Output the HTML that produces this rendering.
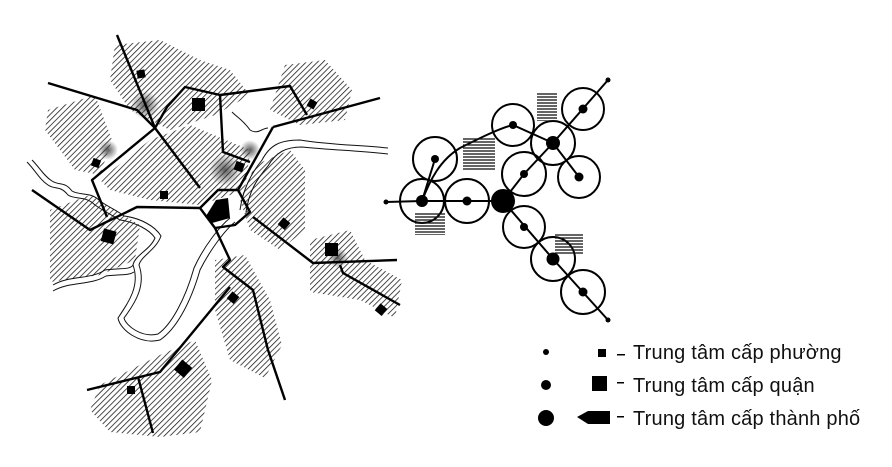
<!DOCTYPE html>
<html><head><meta charset="utf-8"><style>
html,body{margin:0;padding:0;background:#fff;}
svg{display:block;}
text{font-family:"Liberation Sans",Arial,sans-serif;fill:#111;}
</style></head><body>
<svg width="892" height="467" viewBox="0 0 892 467" xmlns="http://www.w3.org/2000/svg">
<defs>
<pattern id="h" width="4" height="4" patternUnits="userSpaceOnUse" patternTransform="rotate(45)">
<line x1="0" y1="0" x2="0" y2="4" stroke="#111" stroke-width="1.5"/>
</pattern>
<pattern id="hz" width="4" height="3" patternUnits="userSpaceOnUse">
<line x1="0" y1="1" x2="4" y2="1" stroke="#111" stroke-width="1.3"/>
</pattern>
<radialGradient id="sm"><stop offset="0" stop-color="#333" stop-opacity=".8"/><stop offset="1" stop-color="#333" stop-opacity="0"/></radialGradient>
</defs>
<rect width="892" height="467" fill="#fff"/>
<g fill="url(#h)">
<polygon points="115,45 160,40 200,60 230,70 250,95 215,115 170,130 130,110 110,80"/>
<polygon points="48,110 95,95 112,140 100,175 75,170 45,130"/>
<polygon points="100,180 150,140 190,125 250,150 245,190 200,205 150,200 110,190"/>
<polygon points="285,65 325,60 352,90 345,120 300,125 270,110"/>
<polygon points="255,165 290,150 305,170 305,230 280,250 250,230 240,200"/>
<polygon points="50,210 90,195 140,225 135,260 100,275 50,282"/>
<polygon points="310,240 350,230 365,260 402,280 395,318 360,300 310,292"/>
<polygon points="215,260 245,255 270,300 282,345 265,378 230,360 215,310"/>
<polygon points="100,385 160,355 195,340 212,380 200,432 160,437 110,432 90,410"/>
</g>
<g fill="url(#sm)">
<circle cx="145" cy="105" r="14"/><circle cx="108" cy="150" r="10"/><circle cx="225" cy="170" r="16"/><circle cx="250" cy="150" r="10"/><circle cx="338" cy="258" r="10"/>
</g>
<g fill="none" stroke="#111" stroke-width="1">
<path d="M27,162 C35,170 40,180 48,185 C55,190 60,185 68,195 C75,200 85,195 95,205 C105,212 112,215 120,220 C135,222 150,230 155,238 C150,250 135,255 133,265 C140,285 130,300 118,318 C120,330 140,345 160,340 C175,330 190,305 200,270 C210,250 225,230 235,222"/>
<path d="M32,160 C40,168 44,176 52,181 C60,186 64,181 72,191 C80,196 90,191 100,201 C110,208 118,211 124,216 C140,218 155,226 161,236 C156,250 141,256 139,265 C146,285 136,302 124,318 C126,326 142,338 158,334 C171,325 185,300 194,268 C204,246 220,226 230,218"/>
<path d="M53,285 C70,275 90,280 105,270 C120,268 130,270 133,265"/>
<path d="M53,291 C70,281 90,286 106,276 C120,274 128,276 134,272"/>
<path d="M240,210 C243,190 250,175 262,160 C270,145 280,140 300,140 C330,145 360,145 388,148"/>
<path d="M246,212 C249,192 256,180 268,166 C276,152 286,147 302,147 C332,150 362,151 388,154"/>
<path d="M232,112 C238,118 243,120 250,130 C258,135 262,128 268,128"/>
</g>
<g fill="none" stroke="#000" stroke-width="2.4" stroke-linejoin="round">
<polyline points="117,35 155,128"/>
<polyline points="155,128 167,107 185,87 220,95 290,86 307,115"/>
<polyline points="273,127 380,98"/>
<polyline points="220,95 223,152 250,162"/>
<polyline points="273,127 253,163 238,190"/>
<polyline points="48,83 137,110 155,128"/>
<polyline points="155,128 92,180 107,217"/>
<polyline points="32,190 90,230 137,207 200,208"/>
<polyline points="155,128 200,188"/>
<polygon points="200,208 218,190 238,190 250,212 235,225 215,228" fill="none"/>
<polyline points="215,228 230,260 223,267 253,290 268,350 285,400"/>
<polyline points="230,287 160,372 87,390"/>
<polyline points="138,377 153,433"/>
<polyline points="253,217 313,263 397,260"/>
<polyline points="340,265 343,273 400,305"/>
</g>
<polygon points="206,216 216,200 228,198 230,218 212,223" fill="#000"/>
<g fill="#000">
<rect x="137" y="70" width="8" height="8" transform="rotate(-10 141 74)"/>
<rect x="192" y="98" width="13" height="13"/>
<rect x="308" y="100" width="8" height="8" transform="rotate(30 312 104)"/>
<rect x="92" y="159" width="8" height="8" transform="rotate(20 96 163)"/>
<rect x="235" y="162" width="9" height="9" transform="rotate(20 239 166)"/>
<rect x="160" y="191" width="8" height="8"/>
<rect x="102" y="230" width="13" height="13" transform="rotate(15 109 237)"/>
<rect x="280" y="219" width="9" height="9" transform="rotate(40 284 223)"/>
<rect x="325" y="243" width="13" height="13"/>
<rect x="377" y="305" width="9" height="9" transform="rotate(40 381 309)"/>
<rect x="229" y="293" width="9" height="9" transform="rotate(40 233 297)"/>
<rect x="177" y="362" width="13" height="13" transform="rotate(40 183 368)"/>
<rect x="127" y="386" width="8" height="8"/>
</g>
<g fill="none" stroke="#000" stroke-width="2">
<path d="M422,201 C430,180 440,160 460,148 C480,138 500,128 513,125"/>
<polyline points="386,202 422,201 503,201"/>
<polyline points="422,201 435,159"/>
<polyline points="503,201 524,174 553,143 608,80"/>
<polyline points="513,125 553,143 579,177"/>
<polyline points="503,201 553,259 608,320"/>
</g>
<g fill="none" stroke="#000" stroke-width="2">
<circle cx="435" cy="159" r="22"/><circle cx="422" cy="201" r="22"/><circle cx="467" cy="201" r="22"/>
<circle cx="513" cy="125" r="21"/><circle cx="553" cy="143" r="22"/><circle cx="583" cy="109" r="21"/>
<circle cx="524" cy="174" r="22"/><circle cx="579" cy="177" r="21"/><circle cx="524" cy="227" r="21"/>
<circle cx="553" cy="259" r="22"/><circle cx="583" cy="292" r="22"/>
</g>
<g fill="#000">
<circle cx="435" cy="159" r="4"/><circle cx="422" cy="201" r="6"/><circle cx="467" cy="201" r="4.5"/>
<circle cx="503" cy="201" r="12"/><circle cx="513" cy="125" r="4"/><circle cx="553" cy="143" r="7"/>
<circle cx="583" cy="109" r="4.5"/><circle cx="524" cy="174" r="4"/><circle cx="579" cy="177" r="4.5"/>
<circle cx="524" cy="227" r="4"/><circle cx="553" cy="259" r="6.5"/><circle cx="583" cy="292" r="4.5"/>
<circle cx="386" cy="202" r="2.5"/><circle cx="608" cy="80" r="2.5"/><circle cx="608" cy="320" r="2.5"/>
</g>
<g>
<rect x="463" y="138" width="32" height="32" fill="url(#hz)"/>
<rect x="537" y="93" width="20" height="28" fill="url(#hz)"/>
<rect x="415" y="213" width="30" height="22" fill="url(#hz)"/>
<rect x="555" y="233" width="28" height="22" fill="url(#hz)"/>
</g>
<g fill="#000">
<circle cx="546" cy="352" r="3"/>
<rect x="598" y="349" width="8" height="8"/>
<rect x="617" y="354" width="8" height="1.5"/>
<circle cx="546" cy="385" r="5"/>
<rect x="592" y="376" width="15" height="15"/>
<rect x="617" y="382" width="7" height="1.5"/>
<circle cx="546" cy="418" r="8"/>
<polygon points="577,417 588,411 610,411 610,424 588,424"/>
<rect x="617" y="416" width="7" height="1.5"/>
</g>
<text x="633" y="359" font-size="20" letter-spacing="0.2">Trung tâm cấp phường</text>
<text x="633" y="392" font-size="20" letter-spacing="0.2">Trung tâm cấp quận</text>
<text x="633" y="425" font-size="20" letter-spacing="0.2">Trung tâm cấp thành phố</text>
</svg>
</body></html>
